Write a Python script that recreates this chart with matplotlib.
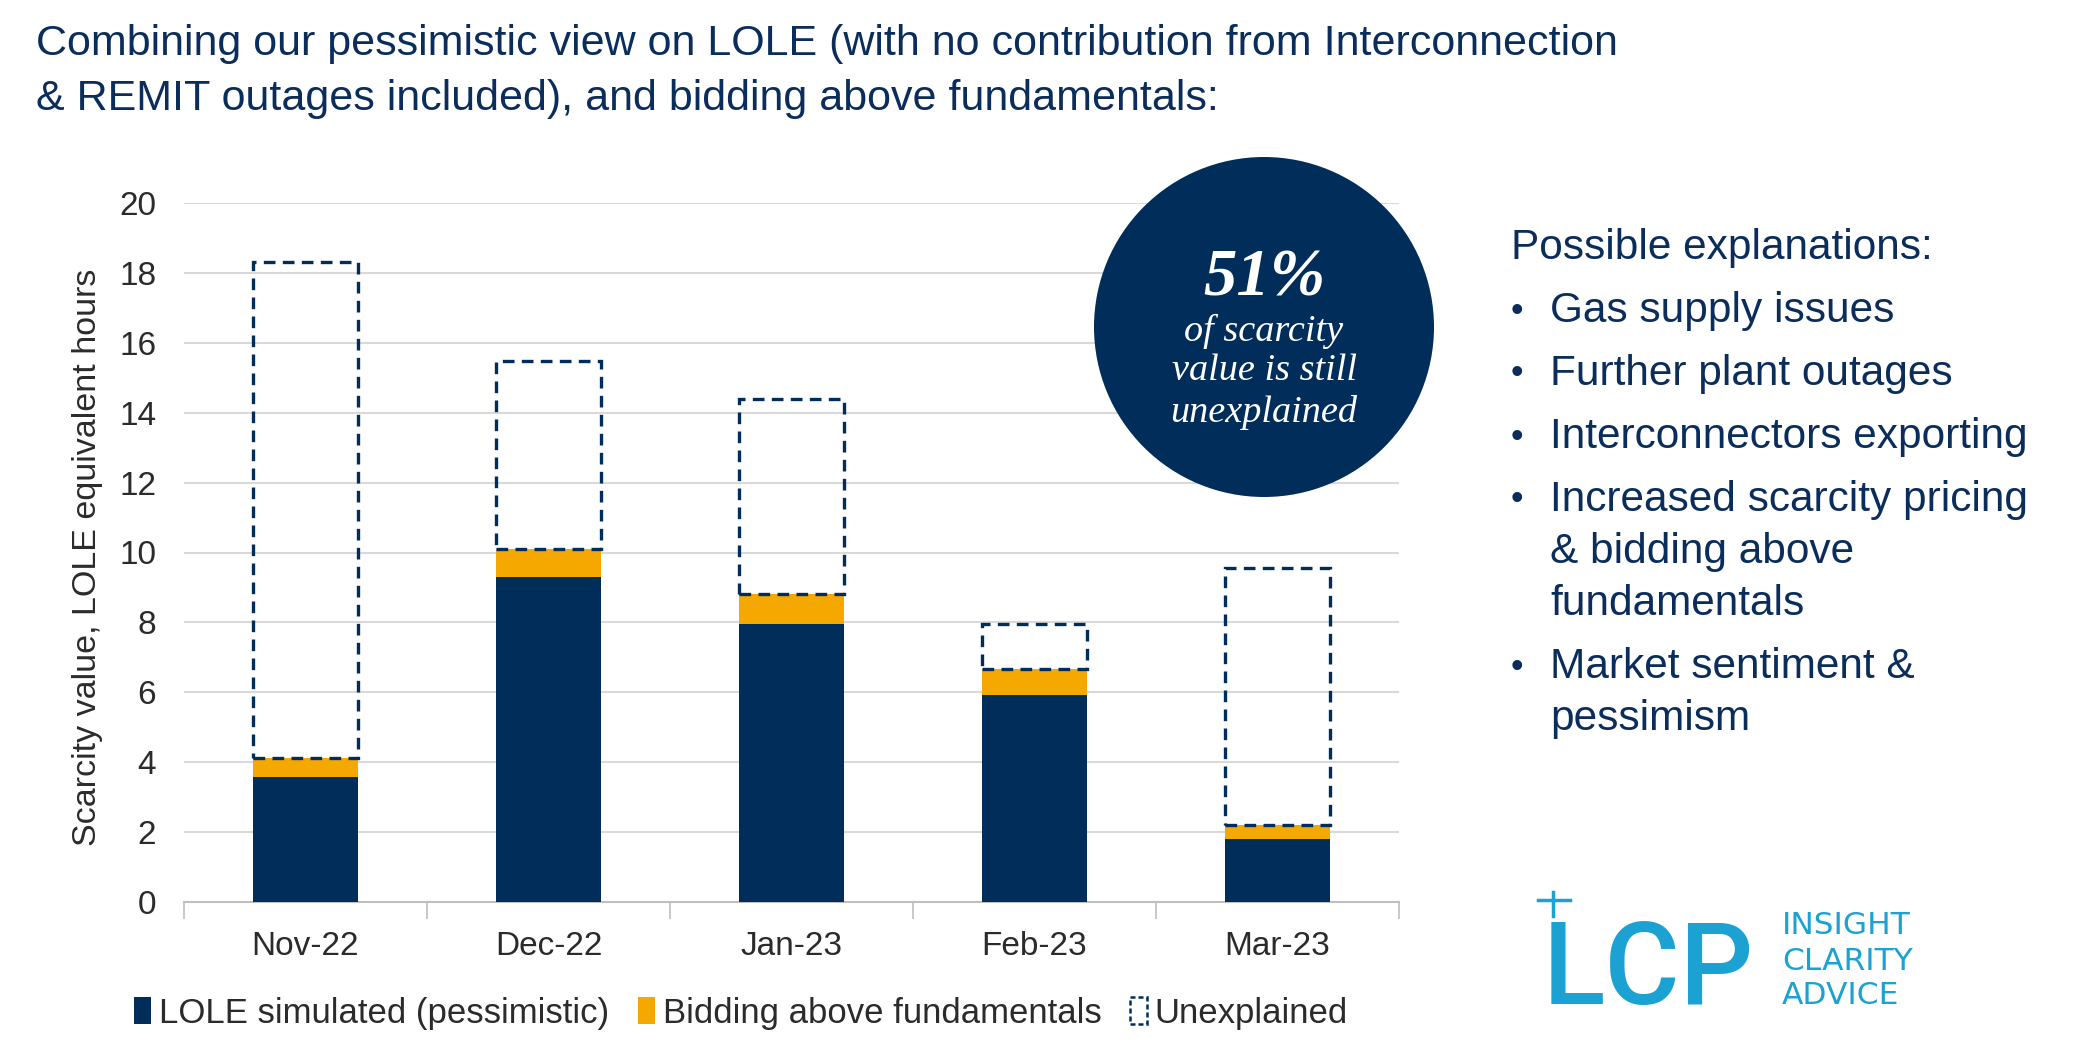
import numpy as np
import matplotlib.pyplot as plt
from matplotlib.patches import Patch, Circle
from matplotlib.lines import Line2D

plt.rcParams['font.family'] = ['Liberation Sans', 'DejaVu Sans']

months = ['Nov-22', 'Dec-22', 'Jan-23', 'Feb-23', 'Mar-23']
lole = [3.57, 9.29, 7.94, 5.93, 1.79]
bidding = [0.56, 0.81, 0.88, 0.73, 0.41]
unexplained = [14.17, 5.38, 5.58, 1.28, 7.35]

title_lines = ['Combining our pessimistic view on LOLE (with no contribution from Interconnection',
               '& REMIT outages included), and bidding above fundamentals:']
explanations = [['Gas supply issues'],
                ['Further plant outages'],
                ['Interconnectors exporting'],
                ['Increased scarcity pricing', '& bidding above', 'fundamentals'],
                ['Market sentiment &', 'pessimism']]

navy = '#002d5a'
orange = '#f5a800'
text_navy = '#0b2d5b'
grey_txt = '#2b2b2b'
cyan = '#1ba1d2'

W, H = 2084, 1063
fig = plt.figure(figsize=(W / 100, H / 100), dpi=100)
ax = fig.add_axes([184 / W, 1 - 902 / H, (1399 - 184) / W, (902 - 203) / H])

x = np.arange(len(months))
bw = 0.43
lole = np.array(lole)
bidding = np.array(bidding)
unexplained = np.array(unexplained)

ax.bar(x, lole, bw, color=navy, zorder=3)
ax.bar(x, bidding, bw, bottom=lole, color=orange, zorder=3)
ax.bar(x, unexplained, bw, bottom=lole + bidding, facecolor='none', edgecolor=navy,
       linewidth=2.4, linestyle=(0, (3.5, 2.2)), zorder=4)

ax.set_xlim(-0.5, len(months) - 0.5)
ax.set_ylim(0, 20)
ax.set_yticks(np.arange(0, 21, 2))
ax.set_xticks(x)
ax.set_xticklabels(months)
ax.set_xticks(np.arange(-0.5, len(months), 1), minor=True)
ax.tick_params(axis='x', which='major', length=0, pad=21, labelsize=24, labelcolor=grey_txt)
ax.tick_params(axis='x', which='minor', length=12, width=1.2, color='#bfbfbf')
ax.tick_params(axis='y', length=0, pad=20, labelsize=24, labelcolor=grey_txt)
ax.grid(axis='y', color='#d9d9d9', linewidth=1.5, zorder=0)
for s in ['top', 'right', 'left']:
    ax.spines[s].set_visible(False)
ax.spines['bottom'].set_color('#bfbfbf')
ax.spines['bottom'].set_linewidth(1.5)

fig.text(88 / W, 1 - 557 / H, 'Scarcity value, LOLE equivalent hours', rotation=90,
         ha='center', va='center', fontsize=24.5, color=grey_txt)

# legend
handles = [Patch(facecolor=navy, edgecolor='none'),
           Patch(facecolor=orange, edgecolor='none'),
           Patch(facecolor='white', edgecolor=navy, linewidth=1.8, linestyle=(0, (2, 1.2)))]
labels = ['LOLE simulated (pessimistic)', 'Bidding above fundamentals', 'Unexplained']
fig.legend(handles, labels, loc='center left', bbox_to_anchor=(134 / W, 1 - 1013 / H),
           ncol=3, frameon=False, fontsize=25, handlelength=0.5, handleheight=0.8,
           handletextpad=0.22, columnspacing=0.82, borderpad=0, borderaxespad=0,
           labelcolor=grey_txt)

# title
fig.text(36 / W, 1 - 44 / H, title_lines[0], ha='left', va='center', fontsize=31, color=text_navy)
fig.text(36 / W, 1 - 99 / H, title_lines[1], ha='left', va='center', fontsize=31, color=text_navy)

# circle callout
circ = Circle((1264 / 100, (H - 327) / 100), 1.70, transform=fig.dpi_scale_trans,
              facecolor=navy, edgecolor='none', zorder=10)
fig.patches.append(circ)
serif = ['Liberation Serif', 'DejaVu Serif']
fig.text(1264 / W, 1 - 279 / H, '51%', ha='center', va='center', fontsize=48,
         family=serif, style='italic', weight='bold', color='white', zorder=11)
for txt, yy in zip(['of scarcity', 'value is still', 'unexplained'], [331, 371, 412]):
    fig.text(1264 / W, 1 - yy / H, txt, ha='center', va='center', fontsize=27.5,
             family=serif, style='italic', color='white', zorder=11)

# explanations
fig.text(1511 / W, 1 - 248 / H, 'Possible explanations:', ha='left', va='center',
         fontsize=30.5, color=text_navy)
y = 311
for item in explanations:
    fig.text(1517 / W, 1 - y / H, '\u2022', ha='center', va='center', fontsize=26, color=text_navy)
    for j, line in enumerate(item):
        fig.text(1550 / W, 1 - y / H, line, ha='left', va='center', fontsize=30.5, color=text_navy)
        if j < len(item) - 1:
            y += 52
    y += 63

# logo
fig.text(1543 / W, 1 - 1004 / H, 'LCP', ha='left', va='baseline', fontsize=83,
         family=['Roboto', 'Liberation Sans'], weight=500, color=cyan)
fig.add_artist(Line2D([1538 / W, 1570 / W], [1 - 900 / H, 1 - 900 / H], color=cyan, linewidth=2.5))
fig.add_artist(Line2D([1553 / W, 1553 / W], [1 - 892 / H, 1 - 916 / H], color=cyan, linewidth=2.5))
for txt, yy in zip(['INSIGHT', 'CLARITY', 'ADVICE'], [926, 961, 996]):
    fig.text(1782 / W, 1 - yy / H, txt, ha='left', va='center', fontsize=22.5,
             family=['DejaVu Sans'], color=cyan)

fig.savefig('out.png', dpi=100, facecolor='white')
